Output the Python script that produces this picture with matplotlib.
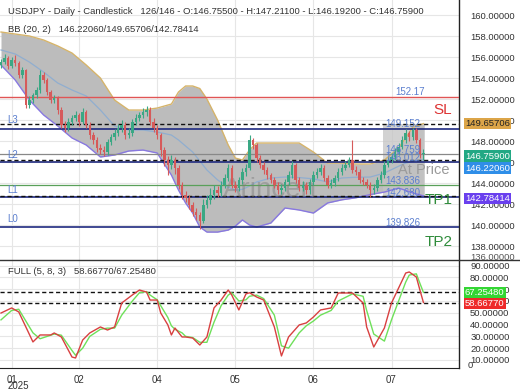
import matplotlib
matplotlib.use('Agg')
import matplotlib.pyplot as plt
from matplotlib.patches import Rectangle
from matplotlib.lines import Line2D
from matplotlib.transforms import blended_transform_factory

plt.rcParams['font.family'] = ['Liberation Sans', 'DejaVu Sans']

# ---------------- data ----------------
title_main = "USDJPY - Daily - Candlestick   126/146 - O:146.75500 - H:147.21100 - L:146.19200 - C:146.75900"
title_bb = "BB (20, 2)   146.22060/149.65706/142.78414"
title_stoch = "FULL (5, 8, 3)   58.66770/67.25480"

opens = [155.20, 155.52, 155.90, 155.14, 155.71, 155.43, 154.29, 154.76, 151.43, 151.90,
         152.38, 152.86, 154.29, 153.81, 152.67, 151.90, 152.10, 150.95, 149.52, 149.24,
         149.81, 150.19, 150.48, 149.81, 150.76, 149.52, 148.57, 148.10, 147.33, 147.14,
         146.95, 147.90, 148.38, 148.76, 149.24, 149.52, 148.57, 148.76, 149.81, 150.19,
         150.48, 150.76, 150.95, 149.81, 149.24, 148.57, 147.14, 146.19, 145.71, 146.19,
         145.43, 143.81, 142.86, 142.57, 141.90, 141.24, 140.95, 140.40, 141.90, 142.38,
         142.86, 143.33, 143.05, 143.81, 144.48, 145.43, 143.81, 143.52, 144.29, 145.05,
         145.43, 148.10, 147.62, 146.38, 145.71, 145.24, 144.76, 144.29, 143.81, 143.33,
         143.52, 144.10, 144.76, 145.71, 144.29, 143.52, 143.81, 143.33, 144.10, 144.76,
         145.05, 145.43, 144.48, 143.81, 144.00, 144.48, 145.05, 145.43, 145.71, 146.19,
         145.24, 145.05, 144.29, 144.10, 143.81, 143.33, 143.52, 144.29, 144.76, 145.71,
         146.19, 146.48, 146.95, 147.43, 148.10, 148.76, 148.38, 149.05, 148.10, 146.755]
closes = [155.52, 155.90, 155.14, 155.71, 155.43, 154.29, 154.76, 151.43, 151.90, 152.38,
          152.86, 154.29, 153.81, 152.67, 151.90, 152.10, 150.95, 149.52, 149.24, 149.81,
          150.19, 150.48, 149.81, 150.76, 149.52, 148.57, 148.10, 147.33, 147.14, 146.95,
          147.90, 148.38, 148.76, 149.24, 149.52, 148.57, 148.76, 149.81, 150.19, 150.48,
          150.76, 150.95, 149.81, 149.24, 148.57, 147.14, 146.19, 145.71, 146.19, 145.43,
          143.81, 142.86, 142.57, 141.90, 141.24, 140.95, 140.40, 141.90, 142.38, 142.86,
          143.33, 143.05, 143.81, 144.48, 145.43, 143.81, 143.52, 144.29, 145.05, 145.43,
          148.10, 147.62, 146.38, 145.71, 145.24, 144.76, 144.29, 143.81, 143.33, 143.52,
          144.10, 144.76, 145.71, 144.29, 143.52, 143.81, 143.33, 144.10, 144.76, 145.05,
          145.43, 144.48, 143.81, 144.00, 144.48, 145.05, 145.43, 145.71, 146.19, 145.24,
          145.05, 144.29, 144.10, 143.81, 143.33, 143.52, 144.29, 144.76, 145.71, 146.19,
          146.48, 146.95, 147.43, 148.10, 148.76, 148.38, 149.05, 148.10, 146.75, 146.759]
highs = [155.85, 156.25, 156.10, 156.00, 156.20, 155.60, 155.05, 154.90, 152.25, 152.60,
         153.10, 154.80, 154.60, 154.00, 152.90, 152.40, 152.30, 151.20, 149.90, 150.20,
         150.50, 150.90, 150.70, 151.10, 150.95, 149.80, 148.90, 148.40, 147.70, 147.50,
         148.20, 148.70, 149.10, 149.60, 150.00, 149.80, 149.20, 150.10, 150.60, 150.80,
         151.10, 151.30, 151.20, 150.20, 149.50, 148.80, 147.40, 146.60, 146.70, 146.50,
         145.70, 144.10, 143.20, 142.90, 142.20, 141.60, 141.20, 142.50, 142.90, 143.50,
         143.80, 143.70, 144.20, 144.90, 145.80, 145.70, 144.20, 144.60, 145.40, 145.80,
         148.60, 148.30, 147.80, 146.70, 146.00, 145.50, 145.00, 144.60, 144.10, 143.90,
         144.40, 145.10, 146.10, 145.90, 144.60, 144.20, 144.10, 144.40, 145.10, 145.40,
         145.80, 145.70, 144.80, 144.40, 144.80, 145.40, 145.80, 146.10, 146.50, 148.10,
         145.60, 145.30, 144.60, 144.40, 144.10, 143.90, 144.60, 145.10, 146.10, 146.50,
         146.90, 147.30, 147.80, 148.50, 149.10, 149.00, 149.20, 149.20, 148.30, 147.211]
lows = [154.95, 155.30, 154.90, 154.95, 155.10, 154.00, 154.00, 151.10, 151.10, 151.60,
        152.10, 152.60, 153.50, 152.40, 151.60, 151.60, 150.60, 149.20, 148.90, 149.00,
        149.50, 149.90, 149.40, 149.60, 149.20, 148.20, 147.70, 147.00, 146.80, 146.60,
        146.70, 147.60, 148.10, 148.50, 148.90, 148.20, 148.30, 148.50, 149.50, 149.90,
        150.20, 150.40, 149.50, 148.90, 148.20, 146.60, 145.60, 144.80, 145.30, 144.90,
        143.40, 142.50, 142.20, 141.50, 140.90, 140.50, 139.60, 140.20, 141.60, 142.00,
        142.50, 142.70, 142.80, 143.50, 144.20, 143.50, 143.10, 143.20, 143.90, 144.70,
        145.20, 147.20, 146.00, 145.40, 144.90, 144.40, 144.00, 143.50, 143.00, 143.00,
        143.20, 143.80, 144.50, 144.00, 143.20, 143.20, 143.00, 143.00, 143.80, 144.50,
        144.80, 144.20, 143.50, 143.50, 143.70, 144.20, 144.80, 145.20, 145.50, 145.00,
        144.80, 144.00, 143.80, 143.50, 142.65, 143.00, 143.20, 144.00, 144.50, 145.50,
        145.90, 146.20, 146.70, 147.20, 147.80, 148.00, 148.10, 147.80, 146.40, 146.192]

bb_bars = [0, 4, 8, 12, 16, 20, 24, 28, 32, 36, 40, 44, 48, 50, 52, 54, 56, 58, 61, 64,
           66, 68, 70, 72, 76, 80, 84, 88, 92, 96, 100, 104, 108, 112, 114, 116, 119]
bb_upper = [158.38, 158.19, 158.00, 157.62, 157.05, 156.38, 155.24, 154.00, 151.90, 150.95,
            150.95, 151.14, 151.52, 152.67, 153.24, 153.24, 153.00, 152.00, 150.00, 147.62,
            146.38, 146.19, 147.14, 147.81, 147.81, 147.81, 147.81, 146.95, 145.90, 145.90,
            145.81, 145.81, 146.19, 147.33, 148.29, 149.33, 149.657]
bb_mid = [156.67, 156.29, 155.52, 154.57, 153.52, 152.86, 152.29, 150.95, 149.43, 149.05,
          149.05, 148.86, 148.57, 148.10, 147.52, 146.95, 146.10, 145.24, 144.30, 143.60,
          143.33, 143.40, 143.71, 144.10, 144.48, 144.57, 144.52, 144.40, 144.10, 144.48,
          144.55, 144.57, 144.95, 145.60, 145.90, 146.05, 146.2206]
bb_lower = [155.24, 153.81, 151.90, 150.48, 149.43, 148.29, 147.62, 146.48, 146.67, 147.05,
            147.14, 146.86, 144.76, 143.33, 142.10, 141.14, 139.81, 139.33, 139.33, 139.52,
            139.90, 140.48, 140.00, 139.81, 140.19, 141.62, 141.43, 141.14, 142.10, 142.40,
            142.60, 142.90, 143.14, 143.52, 143.30, 143.05, 142.784]

stoch_bars = [0, 3, 5, 9, 11, 14, 15, 17, 20, 21, 23, 25, 28, 30, 32, 34, 37, 39, 41, 42,
              44, 45, 47, 48, 49, 51, 52, 54, 56, 58, 60, 62, 64, 65, 67, 69, 70, 72, 74, 77,
              79, 81, 84, 86, 88, 90, 93, 95, 99, 102, 103, 105, 108, 110, 114, 115, 117, 118, 119]
stoch_k = [49.8, 54.1, 50.7, 25.3, 31.2, 31.2, 32.9, 29.5, 12.5, 11.7,
           26.9, 32.9, 38.0, 35.4, 38.0, 58.3, 65.1, 69.3, 67.6, 60.8,
           60.8, 49.8, 39.7, 31.2, 37.1, 29.5, 29.5, 28.6, 22.7, 29.5,
           54.1, 60.8, 69.3, 65.1, 52.4, 66.0, 67.0, 63.4, 60.8, 38.0,
           13.4, 29.5, 39.7, 41.4, 46.4, 52.4, 54.1, 66.8, 66.8, 58.3,
           38.0, 21.0, 37.1, 58.3, 83.7, 84.6, 80.3, 69.3, 58.6677]
stoch_d = [44, 52, 53, 33, 28, 31, 32, 31, 18, 14,
           20, 30, 36, 37, 37, 48, 60, 67, 68, 65,
           61, 56, 46, 39, 36, 33, 30, 29, 25, 25,
           42, 56, 65, 67, 60, 61, 64, 65, 62, 48,
           22, 20, 33, 39, 43, 48, 52, 60, 66, 64,
           52, 32, 26, 44, 76, 82, 83, 75, 67.2548]

month_bars = [3, 22, 44, 66, 88, 110]
month_labels = ["01", "02", "04", "05", "06", "07"]
year_label = "2025"
price_ticks = [138, 140, 142, 144, 146, 148, 150, 152, 154, 156, 158, 160]
stoch_ticks = [10, 20, 30, 40, 50, 60, 70, 80, 90]
hidden_price_label = "136.00000"
hidden_stoch_label = "0"

sl_level = 152.17
level_values = [139.826, 142.680, 146.012, 149.152]
level_names = ["L0", "L1", "L2", "L3"]
tp_line = 143.836
at_price = 146.759
bb_now = [149.65706, 146.22060, 142.78414]   # upper, mid, lower
close_now = 146.75900
stoch_now = [67.25480, 58.66770]               # D, K
zone_start_bar = 107.6

# ---------------- figure ----------------
W, H = 520, 390
fig = plt.figure(figsize=(W / 100, H / 100), dpi=100)
fig.patch.set_facecolor('white')
ax = fig.add_axes([0, 1 - 260 / H, 459 / W, 260 / H])
ax2 = fig.add_axes([0, 1 - 368 / H, 459 / W, 107 / H], sharex=ax)

ax.set_xlim(-1 / 3.55, 458 / 3.55)
ax.set_ylim(136.67, 161.43)
ax2.set_ylim(3.2, 93.9)

grid_c = '#e6e6e6'
for a in (ax, ax2):
    a.set_facecolor('white')
    for s in ('top', 'left'):
        a.spines[s].set_visible(False)
    a.spines['right'].set_color('#222222')
    a.spines['right'].set_linewidth(1.0)
    a.yaxis.tick_right()
    a.tick_params(axis='y', length=0, pad=8, labelsize=6.8, colors='#333333')
    a.tick_params(axis='x', length=0)
ax.spines['bottom'].set_visible(False)
ax2.spines['bottom'].set_color('#222222')

ax.set_yticks(price_ticks)
ax.set_yticklabels([f"{t:.5f}" for t in price_ticks])
ax2.set_yticks(stoch_ticks)
ax2.set_yticklabels([f"{t:.5f}" for t in stoch_ticks])
ax2.set_xticks(month_bars)
ax2.set_xticklabels(month_labels)
ax2.tick_params(axis='x', pad=5, labelsize=7, colors='#333333')
plt.setp(ax.get_xticklabels(), visible=False)

for t in price_ticks:
    ax.axhline(t, color=grid_c, lw=0.8, zorder=0)
for t in stoch_ticks:
    ax2.axhline(t, color=grid_c, lw=0.8, zorder=0)
for m in month_bars:
    ax.axvline(m, color=grid_c, lw=0.8, zorder=0)
    ax2.axvline(m, color=grid_c, lw=0.8, zorder=0)

# Bollinger band
ax.fill_between(bb_bars, bb_lower, bb_upper, color='#bcbcbc', lw=0, zorder=1)
ax.plot(bb_bars, bb_upper, color='#d6b46a', lw=1.0, zorder=2)
ax.plot(bb_bars, bb_lower, color='#8878e0', lw=1.0, zorder=2)
ax.plot(bb_bars, bb_mid, color='#90aed0', lw=0.9, zorder=2)

# zone box at the end
ax.add_patch(Rectangle((zone_start_bar, bb_now[2]), len(closes) - 0.6 - zone_start_bar,
                       bb_now[0] - bb_now[2], facecolor='#c4c4c4', edgecolor='none',
                       alpha=0.75, zorder=1.5))

# horizontal levels
ax.axhline(sl_level, color='#e05555', lw=1.0, zorder=3)
for v in level_values:
    ax.axhline(v, color='#1f2a80', lw=1.2, zorder=3)
ax.axhline(tp_line, color='#5aa05a', lw=0.9, zorder=3)
ax.axhline(at_price, color='#888888', lw=0.9, zorder=3)
for v in bb_now:
    ax.axhline(v, color='#111111', lw=1.0, ls=(0, (3, 2)), zorder=3)

# watermark
ax.text(75.8, 143.33, "Arincen", color='#7a7a7a', alpha=0.45, fontsize=20,
        ha='center', va='center', zorder=3.5)

# candles
up_c, dn_c = '#3aa884', '#d65a5a'
for i, (o, h, l, c) in enumerate(zip(opens, highs, lows, closes)):
    col = up_c if c >= o else dn_c
    ax.vlines(i, l, h, color=col, lw=0.8, zorder=4)
    ax.bar(i, max(abs(c - o), 0.06), bottom=min(o, c), width=0.68, color=col,
           lw=0, zorder=4)

# texts on main chart
lab_c = '#5b7fcf'
ax.text(111, 152.67, f"{sl_level:.2f}", color=lab_c, fontsize=7, va='center', zorder=5)
ax.text(121.7, 150.95, "SL", color='#dd3333', fontsize=11, va='center', zorder=5)
ax.text(108.2, 149.62, f"{level_values[3]:.3f}", color=lab_c, fontsize=7, va='center', zorder=5)
ax.text(108.2, 147.14, f"{at_price:.3f}", color=lab_c, fontsize=7, va='center', zorder=5)
ax.text(108.2, 146.38, f"{level_values[2]:.3f}", color=lab_c, fontsize=7, va='center', zorder=5)
ax.text(111.8, 145.24, "At Price", color='#9a9a9a', fontsize=10.5, va='center', zorder=5)
ax.text(108.2, 144.19, f"{tp_line:.3f}", color=lab_c, fontsize=7, va='center', zorder=5)
ax.text(108.2, 143.05, f"{level_values[1]:.3f}", color=lab_c, fontsize=7, va='center', zorder=5)
ax.text(119.4, 142.38, "TP1", color='#2e8b3a', fontsize=11, va='center', zorder=5)
ax.text(108.2, 140.19, f"{level_values[0]:.3f}", color=lab_c, fontsize=7, va='center', zorder=5)
ax.text(119.4, 138.38, "TP2", color='#2e8b3a', fontsize=11, va='center', zorder=5)
for name, yv in zip(level_names, [140.57, 143.33, 146.67, 150.0]):
    ax.text(1.7, yv, name, color=lab_c, fontsize=7, va='center', zorder=5)

# value boxes on right axis (label positions nudged apart like the reference)
tb = blended_transform_factory(ax.transAxes, ax.transData)
box_specs = [(bb_now[0], 149.66, '#dca548', '#222222'),
             (close_now, 146.57, '#22a884', 'white'),
             (bb_now[1], 145.43, '#2f8ee8', 'white'),
             (bb_now[2], 142.52, '#6a40ee', 'white')]
for v, ypos, fc, tc in box_specs:
    ax.text(1.013, ypos, f"{v:.5f}", transform=tb, fontsize=6.8, color=tc, va='center',
            ha='left', clip_on=False, zorder=6,
            bbox=dict(boxstyle='square,pad=0.12', fc=fc, ec='none'))

# stochastic
ax2.plot(stoch_bars, stoch_d, color='#6ee05a', lw=1.0, zorder=3)
ax2.plot(stoch_bars, stoch_k, color='#d84040', lw=1.0, zorder=4)
for v in stoch_now:
    ax2.axhline(v, color='#111111', lw=1.0, ls=(0, (3, 2)), zorder=2)
tb2 = blended_transform_factory(ax2.transAxes, ax2.transData)
for v, ypos, fc in zip(stoch_now, [67.25, 57.6], ['#33d633', '#ee2a2a']):
    ax2.text(1.013, ypos, f"{v:.5f}", transform=tb2, fontsize=6.8, color='white', va='center',
             ha='left', clip_on=False, zorder=6,
             bbox=dict(boxstyle='square,pad=0.12', fc=fc, ec='none'))

# partly hidden axis labels seen in the reference
fig.text(470 / W, 1 - 257 / H, hidden_price_label, fontsize=6.8, va='center',
         color='#555555')
fig.text(468 / W, 1 - 365 / H, hidden_stoch_label, fontsize=6.8, va='center',
         color='#333333')

# separator and titles
fig.add_artist(Line2D([0, 1], [1 - 260 / H] * 2, transform=fig.transFigure,
                      color='#333333', lw=1.0))
fig.text(8 / W, 1 - 12 / H, title_main, fontsize=6.8, va='center', color='#333333')
fig.text(8 / W, 1 - 29 / H, title_bb, fontsize=6.8, va='center', color='#333333')
fig.text(8 / W, 1 - 272 / H, title_stoch, fontsize=6.8, va='center', color='#333333')
fig.text(8 / W, 1 - 386 / H, year_label, fontsize=7, va='center', color='#333333')

fig.savefig('out.png', dpi=100)
